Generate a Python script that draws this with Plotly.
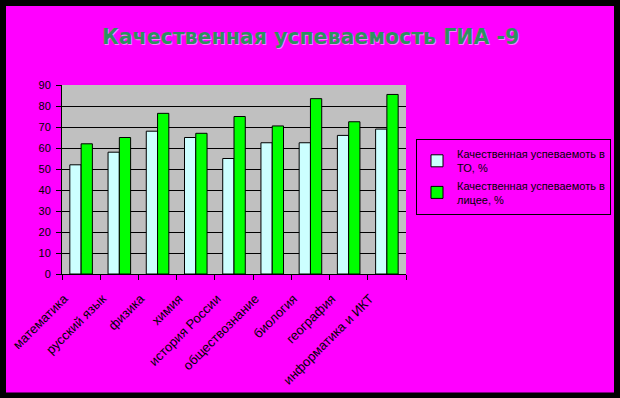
import plotly.graph_objects as go

categories = ["математика", "русский язык", "физика", "химия", "история России",
              "обществознание", "биология", "география", "информатика и ИКТ"]
to_values = [52, 58, 68, 65, 55, 62.5, 62.5, 66, 69]
lyceum_values = [62, 65, 76.5, 67, 75, 70.5, 83.5, 72.5, 85.5]
series_names = ["Качественная успеваемоть в<br>ТО, %", "Качественная успеваемоть в<br>лицее, %"]
y_ticks = list(range(0, 91, 10))

W, H = 620, 398
ml, mr, mt, mb = 62, 214, 85, 124
pw, ph = W - ml - mr, H - mt - mb

def px2x(px):
    return (px - ml) / pw

def py2y(py):
    return (H - mb - py) / ph

fig = go.Figure()
fig.add_trace(go.Bar(x=categories, y=to_values, name=series_names[0],
                     marker=dict(color="#CCFFFF", line=dict(color="black", width=1))))
fig.add_trace(go.Bar(x=categories, y=lyceum_values, name=series_names[1],
                     marker=dict(color="#00FF00", line=dict(color="black", width=1))))

fig.update_layout(
    width=W, height=H, autosize=False,
    margin=dict(l=ml, r=mr, t=mt, b=mb, pad=0, autoexpand=False),
    paper_bgcolor="#FF00FF",
    plot_bgcolor="#C0C0C0",
    barmode="group", bargap=0.41, bargroupgap=0,
    font=dict(family="Arial, Liberation Sans", color="black", size=11),
    showlegend=True,
    legend=dict(x=px2x(416), y=py2y(139), xanchor="left", yanchor="top",
                bordercolor="black", borderwidth=1, bgcolor="rgba(0,0,0,0)",
                font=dict(size=11, family="Arial, Liberation Sans", color="black"),
                itemwidth=30),
    xaxis=dict(showline=True, linecolor="black", linewidth=1, ticks="outside",
               ticklen=5, tickcolor="black", tickson="boundaries", tickangle=-45,
               tickfont=dict(size=13), showgrid=False, mirror=False,
               ticklabelshift=-17, ticklabelstandoff=11),
    yaxis=dict(range=[0, 90], tickvals=y_ticks, showline=True, linecolor="black",
               linewidth=1, ticks="outside", ticklen=5, tickcolor="black",
               showgrid=True, gridcolor="black", gridwidth=1, zeroline=False,
               tickfont=dict(size=11), ticklabelstandoff=3),
    shapes=[
        dict(type="rect", xref="paper", yref="paper",
             x0=px2x(3), x1=px2x(617), y0=py2y(395.5), y1=py2y(3),
             line=dict(color="black", width=6), fillcolor="rgba(0,0,0,0)", layer="above"),
    ],
    annotations=[
        dict(text="Качественная успеваемость ГИА -9", xref="paper", yref="paper",
             x=px2x(310), y=py2y(37), xanchor="center", yanchor="middle", showarrow=False,
             font=dict(family="DejaVu Sans", size=20.5, color="#2E9160",
                       weight="bold", shadow="1px 1px 0px rgba(255,255,255,0.5)")),
    ],
)

fig.write_html("out.html", config={"displayModeBar": False},
               post_script="document.body.style.margin='0px';")
